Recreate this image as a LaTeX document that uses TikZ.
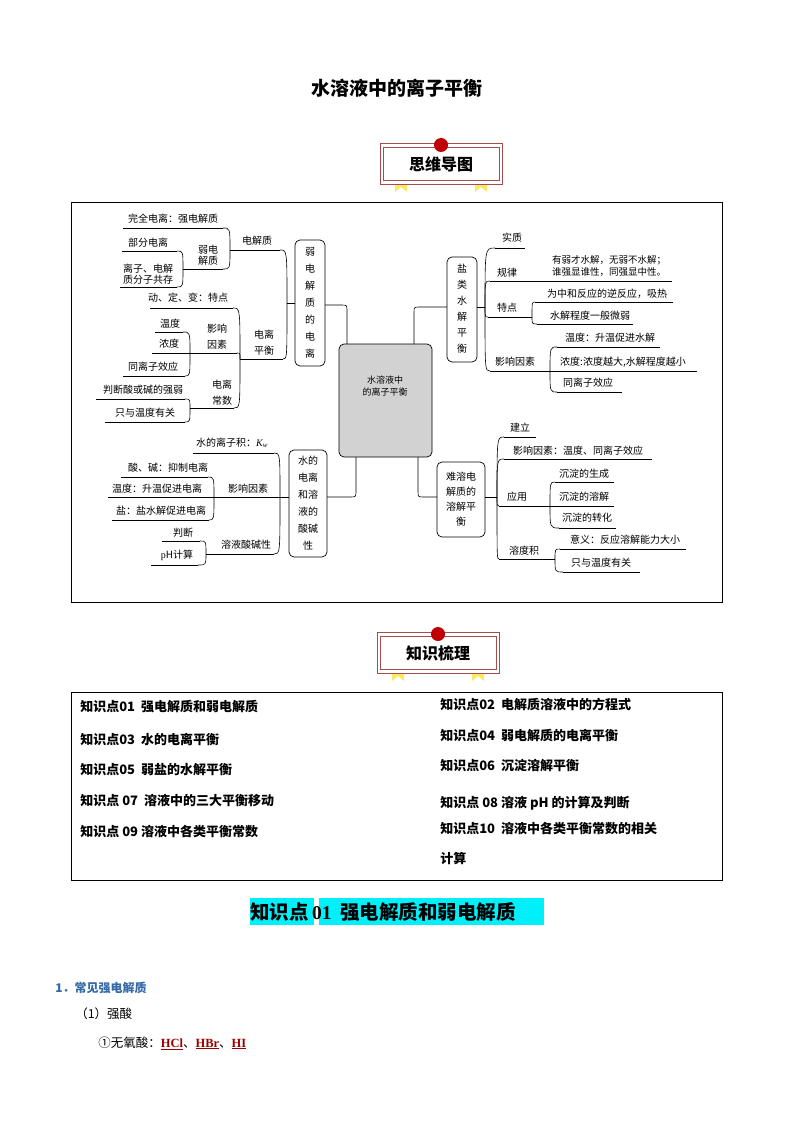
\documentclass[tikz,border=0pt]{standalone}
\usepackage{fontspec}
\setmainfont{Noto Sans CJK SC}
\newfontfamily\serifx{Liberation Serif}
\definecolor{cyanx}{RGB}{0,240,250}
\newcommand{\brc}[4]{\draw (#1,#2) .. controls (#3,#2) and (#3,#2) .. (#3,#4);}
\newcommand{\badgex}[3]{%
  \fill[yellow!80!orange!60] (#1-46,#2+36) -- (#1-34,#2+36) -- (#1-34,#2+49) -- (#1-40,#2+44) -- (#1-46,#2+49) -- cycle;
  \fill[yellow!80!orange!60] (#1+34,#2+36) -- (#1+46,#2+36) -- (#1+46,#2+49) -- (#1+40,#2+44) -- (#1+34,#2+49) -- cycle;
  \draw[red!50!black!70,fill=white] (#1-61,#2) rectangle (#1+61,#2+41);
  \draw[red!50!black!70] (#1-58,#2+4) rectangle (#1+58,#2+37);
  \fill[red!75!black] (#1,#2+2) circle (7);
  \node[font=\fontsize{16}{18}\selectfont\bfseries] at (#1,#2+21) {#3};}
\begin{document}
\begin{tikzpicture}[x=1pt,y=-1pt,line width=0.6pt,
  t/.style={font=\fontsize{10}{11}\selectfont,inner sep=0pt,align=center},
  vb/.style={draw,rounded corners=5pt,line width=0.7pt},
  tb/.style={font=\fontsize{13}{14}\selectfont\bfseries,anchor=west,inner sep=0pt}]
\useasboundingbox (0,0) rectangle (794,1123);
\node[font=\fontsize{19}{21}\selectfont\bfseries] (title) at (397,88) {水溶液中的离子平衡};
\badgex{441}{143}{思维导图}
\draw[line width=0.7pt] (71,202) rectangle (722,602);
% center
\draw[vb,fill=gray!35] (339,344) rectangle (432,457);
\node[t,font=\fontsize{9}{12}\selectfont] (c) at (385,386) {水溶液中\\的离子平衡};
% left top
\draw[vb] (295,240) rectangle (325,366);
\node[t,font=\fontsize{10}{17}\selectfont] at (310,303) {弱\\电\\解\\质\\的\\电\\离};
\draw (325,305) -- (341,305) .. controls (347,305) and (347,305) .. (347,311) -- (347,344);
\draw (295,303)--(287,303);
\draw (230,250)--(280,250); \brc{280}{250}{287}{303} \node[t] at (257,241) {电解质};
\draw (240,359)--(283,359); \brc{283}{359}{287}{303} \node[t,font=\fontsize{10}{16}\selectfont] at (264,343) {电离\\平衡};
\draw (123,228)--(223,228); \brc{223}{228}{230}{250} \node[t] at (173,219) {完全电离：强电解质};
\draw (183,269)--(223,269); \brc{223}{269}{230}{250} \node[t,font=\fontsize{10}{10.5}\selectfont] at (208,255) {弱电\\解质};
\draw (122,251)--(177,251); \brc{177}{251}{183}{269} \node[t] at (148,243) {部分电离};
\draw (120,287)--(177,287); \brc{177}{287}{183}{269} \node[t,font=\fontsize{10}{10.5}\selectfont] at (148,274) {离子、电解\\质分子共存};
\draw (150,308)--(233,308); \brc{233}{308}{240}{359} \node[t] at (188,298) {动、定、变：特点};
\draw (152,353)--(237,353); \brc{237}{353}{240}{359} \node[t,font=\fontsize{10}{16}\selectfont] at (217,337) {影响\\因素};
\draw (190,408)--(234,408); \brc{234}{408}{240}{359} \node[t,font=\fontsize{10}{16}\selectfont] at (222,393) {电离\\常数};
\draw (155,332)--(183,332); \brc{183}{332}{190}{353} \node[t] at (170,324) {温度};
\node[t] at (169,344) {浓度};
\draw (123,376)--(185,376); \brc{185}{376}{190}{353} \node[t] at (153,367) {同离子效应};
\draw (96,399)--(185,399); \brc{185}{399}{190}{408} \node[t] at (143,390) {判断酸或碱的强弱};
\draw (105,422)--(185,422); \brc{185}{422}{190}{408} \node[t] at (145,413) {只与温度有关};
% right top
\draw[vb] (447,257) rectangle (477,362);
\node[t,font=\fontsize{10}{16}\selectfont] at (462,309) {盐\\类\\水\\解\\平\\衡};
\draw (447,307) -- (420,307) .. controls (414,307) and (414,307) .. (414,313) -- (414,344);
\draw (477,307)--(485,307);
\draw (495,248)--(525,248); \brc{495}{248}{485}{307} \node[t] at (512,238) {实质};
\draw (490,281)--(672,281); \brc{490}{281}{485}{307} \node[t] at (507,273) {规律};
\node[t,font=\fontsize{9.5}{12}\selectfont] at (609,266) {有弱才水解，无弱不水解；\\谁强显谁性，同强显中性。};
\draw (488,317)--(532,317); \brc{488}{317}{485}{307} \node[t] at (507,308) {特点};
\draw (490,371)--(550,371); \brc{490}{371}{485}{307} \node[t] at (515,362) {影响因素};
\draw (535,302)--(673,302); \brc{535}{302}{532}{317} \node[t] at (607,294) {为中和反应的逆反应，吸热};
\draw (537,324)--(633,324); \brc{537}{324}{532}{317} \node[t] at (590,316) {水解程度一般微弱};
\draw (557,347)--(660,347); \brc{557}{347}{550}{371} \node[t] at (610,338) {温度：升温促进水解};
\draw (550,371)--(697,371); \node[t] at (623,362) {浓度:浓度越大,水解程度越小};
\draw (557,392)--(622,392); \brc{557}{392}{550}{371} \node[t] at (588,383) {同离子效应};
% left bottom
\draw[vb] (289,450) rectangle (327,557);
\node[t,font=\fontsize{10}{17}\selectfont] at (308,503) {水的\\电离\\和溶\\液的\\酸碱\\性};
\draw (327,497) -- (350,497) .. controls (356,497) and (356,497) .. (356,491) -- (356,457);
\draw (289,497)--(280,497);
\draw (193,453)--(274,453); \brc{274}{453}{280}{497} \node[t] at (232,443) {水的离子积：\serifx\itshape K\textsubscript{w}};
\draw (108,497)--(280,497); \node[t] at (248,489) {影响因素};
\draw (206,554)--(274,554); \brc{274}{554}{280}{497} \node[t] at (246,545) {溶液酸碱性};
\draw (121,477)--(208,477); \brc{208}{477}{214}{497} \node[t] at (168,468) {酸、碱：抑制电离};
\node[t] at (157,489) {温度：升温促进电离};
\draw (112,520)--(209,520); \brc{209}{520}{214}{497} \node[t] at (161,511) {盐：盐水解促进电离};
\draw (162,541)--(200,541); \brc{200}{541}{206}{554} \node[t] at (183,533) {判断};
\draw (151,565)--(198,565); \brc{198}{565}{206}{554} \node[t] at (177,555) {{\serifx p}H计算};
% right bottom
\draw[vb] (437,462) rectangle (485,537);
\node[t,font=\fontsize{10}{15}\selectfont] at (461,499) {难溶电\\解质的\\溶解平\\衡};
\draw (418,457) -- (418,491) .. controls (418,497) and (418,497) .. (424,497) -- (437,497);
\draw (485,497)--(497,497);
\draw (504,437)--(536,437); \brc{504}{437}{497}{497} \node[t] at (520,428) {建立};
\draw (504,459)--(652,459); \brc{504}{459}{497}{497} \node[t] at (578,451) {影响因素：温度、同离子效应};
\draw (499,506)--(550,506); \brc{499}{506}{497}{497} \node[t] at (517,497) {应用};
\draw (499,559)--(555,559); \brc{499}{559}{497}{497} \node[t] at (524,551) {溶度积};
\draw (555,482)--(614,482); \brc{555}{482}{550}{506} \node[t] at (584,474) {沉淀的生成};
\draw (550,506)--(614,506); \node[t] at (584,497) {沉淀的溶解};
\draw (559,528)--(616,528); \brc{559}{528}{550}{506} \node[t] at (587,518) {沉淀的转化};
\draw (560,549)--(686,549); \brc{560}{549}{555}{559} \node[t] at (625,540) {意义：反应溶解能力大小};
\draw (563,572)--(640,572); \brc{563}{572}{555}{559} \node[t] at (601,563) {只与温度有关};
% knowledge list
\badgex{438}{632}{知识梳理}
\draw[line width=0.7pt] (71,692) rectangle (722,880);
\node[tb] at (80,707) {知识点01\ \ 强电解质和弱电解质};
\node[tb] at (80,739) {知识点03\ \ 水的电离平衡};
\node[tb] at (80,770) {知识点05\ \ 弱盐的水解平衡};
\node[tb] at (80,801) {知识点 07\ \ 溶液中的三大平衡移动};
\node[tb] at (80,832) {知识点 09 溶液中各类平衡常数};
\node[tb] at (440,704) {知识点02\ \ 电解质溶液中的方程式};
\node[tb] at (440,735) {知识点04\ \ 弱电解质的电离平衡};
\node[tb] at (440,766) {知识点06\ \ 沉淀溶解平衡};
\node[tb] at (440,803) {知识点 08 溶液 pH 的计算及判断};
\node[tb] at (440,829) {知识点10\ \ 溶液中各类平衡常数的相关};
\node[tb] at (440,859) {计算};
% heading
\fill[cyanx] (250,898) rectangle (314,925);
\fill[cyanx] (319,898) rectangle (544,925);
\node[font=\fontsize{19.5}{21}\selectfont\bfseries,anchor=west,inner sep=0pt] at (250,912) {知识点\,{\serifx 01}\ \ 强电解质和弱电解质};
\node[font=\fontsize{12}{13}\selectfont\bfseries,text=cyan!50!blue!80!black,anchor=west,inner sep=0pt] at (55,988) {1．常见强电解质};
\node[font=\fontsize{12.5}{13}\selectfont,anchor=west,inner sep=0pt] at (75,1014) {（1）强酸};
\node[font=\fontsize{12.5}{13}\selectfont,anchor=west,inner sep=0pt] at (98,1043) {①无氧酸：{\serifx\bfseries\color{red!60!black}\underline{HCl}}、{\serifx\bfseries\color{red!60!black}\underline{HBr}}、{\serifx\bfseries\color{red!60!black}\underline{HI}}};
\end{tikzpicture}
\end{document}
